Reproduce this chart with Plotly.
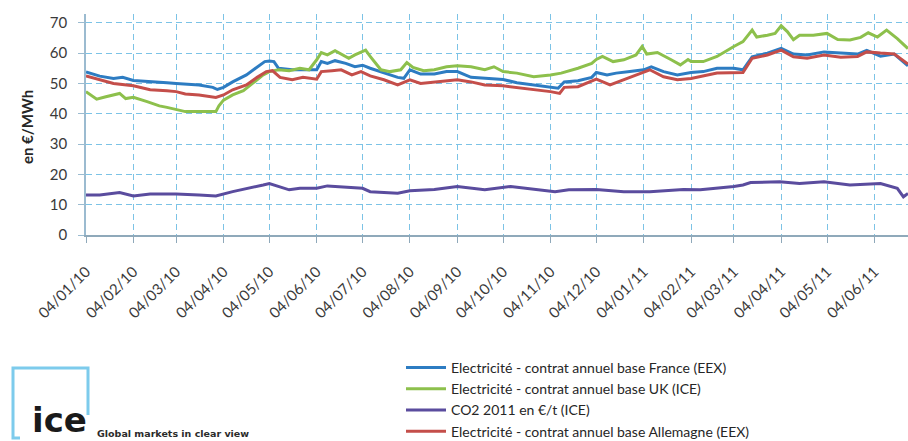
import plotly.graph_objects as go

# ---------------- data ----------------
france_dates = ["2010-01-04","2010-01-13","2010-01-22","2010-01-28","2010-02-04","2010-02-15","2010-02-26",
    "2010-03-04","2010-03-10","2010-03-19","2010-03-28","2010-03-31","2010-04-04","2010-04-10","2010-04-19",
    "2010-04-26","2010-05-01","2010-05-04","2010-05-07","2010-05-10","2010-05-15","2010-05-19","2010-05-26",
    "2010-06-04","2010-06-07","2010-06-11","2010-06-16","2010-06-23","2010-06-29","2010-07-04","2010-07-09",
    "2010-07-18","2010-07-27","2010-07-31","2010-08-04","2010-08-11","2010-08-20","2010-08-28","2010-09-04",
    "2010-09-13","2010-09-22","2010-10-04","2010-10-13","2010-10-24","2010-11-04","2010-11-09","2010-11-13",
    "2010-11-22","2010-12-01","2010-12-04","2010-12-11","2010-12-17","2010-12-26","2011-01-04","2011-01-09",
    "2011-01-17","2011-01-26","2011-02-04","2011-02-12","2011-02-21","2011-03-04","2011-03-10","2011-03-16",
    "2011-03-26","2011-04-04","2011-04-12","2011-04-21","2011-05-02","2011-05-13","2011-05-24","2011-05-30",
    "2011-06-08","2011-06-17","2011-06-26"]
france_values = [53.8,52.4,51.6,52.0,51.0,50.5,50.2,
    50.0,49.8,49.5,48.7,48.0,48.7,50.5,52.8,
    55.5,57.2,57.4,57.2,55.0,54.7,54.5,54.5,
    54.5,57.2,56.6,57.5,56.6,55.5,56.0,55.0,
    53.4,52.0,51.7,54.5,53.1,53.1,53.9,53.9,
    52.0,51.6,51.3,50.2,49.5,48.9,48.4,50.5,
    50.9,52.0,53.6,52.8,53.4,53.9,54.5,55.5,
    53.9,52.8,53.6,53.9,55.0,55.0,54.5,58.8,
    60.0,61.6,59.7,59.4,60.4,60.0,59.7,60.9,
    59.0,59.7,55.8]

uk_dates = ["2010-01-04","2010-01-11","2010-01-17","2010-01-26","2010-01-30","2010-02-04","2010-02-13",
    "2010-02-21","2010-02-26","2010-03-04","2010-03-10","2010-03-19","2010-03-30","2010-04-01","2010-04-04",
    "2010-04-10","2010-04-17","2010-04-23","2010-04-30","2010-05-04","2010-05-10","2010-05-17","2010-05-24",
    "2010-05-30","2010-06-04","2010-06-07","2010-06-11","2010-06-16","2010-06-20","2010-06-25","2010-06-29",
    "2010-07-04","2010-07-06","2010-07-09","2010-07-16","2010-07-22","2010-07-29","2010-08-02","2010-08-06",
    "2010-08-13","2010-08-20","2010-08-28","2010-09-04","2010-09-13","2010-09-22","2010-09-28","2010-10-04",
    "2010-10-13","2010-10-24","2010-11-04","2010-11-11","2010-11-22","2010-12-01","2010-12-04","2010-12-08",
    "2010-12-15","2010-12-22","2010-12-30","2011-01-03","2011-01-06","2011-01-13","2011-01-22","2011-01-28",
    "2011-02-02","2011-02-04","2011-02-12","2011-02-21","2011-03-04","2011-03-10","2011-03-16","2011-03-19",
    "2011-03-26","2011-03-31","2011-04-04","2011-04-08","2011-04-12","2011-04-16","2011-04-25","2011-05-04",
    "2011-05-11","2011-05-19","2011-05-26","2011-05-31","2011-06-06","2011-06-12","2011-06-19","2011-06-26"]
uk_values = [47.3,44.8,45.6,46.7,45.0,45.4,44.0,
    42.6,42.1,41.3,40.7,40.7,40.7,42.6,44.5,
    46.2,47.6,50.0,52.8,53.9,54.5,54.2,55.0,
    54.5,57.8,60.2,59.4,60.8,59.7,58.3,59.4,
    60.5,61.0,58.9,54.5,53.9,54.5,56.9,55.3,
    54.2,54.5,55.5,55.8,55.5,54.5,55.5,53.9,
    53.4,52.2,52.8,53.4,55.0,56.6,57.9,58.9,
    57.2,57.8,59.4,62.2,59.7,60.2,57.8,56.1,
    57.9,57.2,57.2,58.9,62.2,63.8,67.6,65.3,
    65.9,66.5,69.0,67.1,64.4,65.9,65.9,66.5,
    64.5,64.3,65.2,66.7,65.3,67.6,64.8,61.5]

co2_dates = ["2010-01-04","2010-01-13","2010-01-26","2010-02-04","2010-02-15","2010-03-04","2010-03-19",
    "2010-03-30","2010-04-10","2010-04-21","2010-04-30","2010-05-04","2010-05-10","2010-05-17","2010-05-24",
    "2010-06-04","2010-06-11","2010-06-23","2010-07-04","2010-07-09","2010-07-20","2010-07-27","2010-08-04",
    "2010-08-20","2010-09-04","2010-09-13","2010-09-22","2010-10-09","2010-10-24","2010-11-07","2010-11-16",
    "2010-12-04","2010-12-22","2011-01-08","2011-01-30","2011-02-10","2011-03-04","2011-03-10","2011-03-15",
    "2011-04-03","2011-04-16","2011-05-02","2011-05-19","2011-06-08","2011-06-19","2011-06-23","2011-06-26"]
co2_values = [13.2,13.2,14.0,12.9,13.5,13.5,13.2,
    12.9,14.3,15.4,16.5,17.0,16.0,14.9,15.4,
    15.4,16.2,15.7,15.4,14.3,14.0,13.8,14.6,
    15.0,16.0,15.4,14.9,16.0,15.0,14.3,14.9,
    15.0,14.3,14.3,15.0,14.9,16.0,16.5,17.3,
    17.6,17.0,17.6,16.5,17.0,15.4,12.6,13.7]

germany_dates = ["2010-01-04","2010-01-13","2010-01-22","2010-02-04","2010-02-15","2010-02-26","2010-03-04",
    "2010-03-10","2010-03-19","2010-03-30","2010-04-04","2010-04-10","2010-04-19","2010-04-26","2010-05-02",
    "2010-05-06","2010-05-11","2010-05-19","2010-05-26","2010-06-04","2010-06-07","2010-06-14","2010-06-20",
    "2010-06-27","2010-07-03","2010-07-09","2010-07-18","2010-07-27","2010-08-04","2010-08-11","2010-08-20",
    "2010-09-04","2010-09-13","2010-09-22","2010-10-04","2010-10-13","2010-10-24","2010-11-04","2010-11-10",
    "2010-11-13","2010-11-22","2010-12-04","2010-12-13","2010-12-22","2010-12-30","2011-01-08","2011-01-17",
    "2011-01-26","2011-02-04","2011-02-12","2011-02-21","2011-03-10","2011-03-16","2011-03-26","2011-04-04",
    "2011-04-12","2011-04-21","2011-05-02","2011-05-13","2011-05-24","2011-05-30","2011-06-08","2011-06-17",
    "2011-06-26"]
germany_values = [52.5,51.2,50.0,49.2,47.9,47.6,47.3,
    46.5,46.2,45.4,46.2,47.9,49.5,52.0,53.9,
    54.2,52.0,51.2,52.0,51.4,53.9,54.2,54.5,
    52.8,53.9,52.5,51.2,49.5,51.2,50.0,50.5,
    51.2,50.5,49.5,49.2,48.7,47.9,47.3,46.7,
    48.7,48.9,51.4,49.5,51.2,52.8,54.5,52.2,
    51.2,51.6,52.5,53.4,53.6,58.3,59.4,61.0,
    58.8,58.3,59.4,58.6,58.9,60.4,60.0,59.7,
    56.4]

series_names = ["Electricité - contrat annuel base France (EEX)",
                "Electricité - contrat annuel base UK (ICE)",
                "CO2 2011 en €/t (ICE)",
                "Electricité - contrat annuel base Allemagne (EEX)"]

x_tick_dates = ["2010-01-04","2010-02-04","2010-03-04","2010-04-04","2010-05-04","2010-06-04",
                "2010-07-04","2010-08-04","2010-09-04","2010-10-04","2010-11-04","2010-12-04",
                "2011-01-04","2011-02-04","2011-03-04","2011-04-04","2011-05-04","2011-06-04"]
x_tick_labels = ["04/01/10","04/02/10","04/03/10","04/04/10","04/05/10","04/06/10",
                 "04/07/10","04/08/10","04/09/10","04/10/10","04/11/10","04/12/10",
                 "04/01/11","04/02/11","04/03/11","04/04/11","04/05/11","04/06/11"]
y_ticks = [0, 10, 20, 30, 40, 50, 60, 70]

# ---------------- layout helpers ----------------
W, H = 908, 441
L, R, T, B = 86, 0, 14, 206
PW, PH = W - L - R, H - T - B


def px(x):
    return (x - L) / PW


def py(y):
    return (H - B - y) / PH


colors = ["#2D7CC2", "#8DC04C", "#5A4C9E", "#C44E4A"]
FONT = "Lato, 'Open Sans', sans-serif"

fig = go.Figure()
for d, v, name, c in zip([france_dates, uk_dates, co2_dates, germany_dates],
                         [france_values, uk_values, co2_values, germany_values],
                         series_names, colors):
    fig.add_trace(go.Scatter(x=d, y=v, mode="lines", name=name,
                             line=dict(color=c, width=3)))

grid_col = "#7CC3E6"
fig.update_layout(
    width=W, height=H, autosize=False,
    margin=dict(l=L, r=R, t=T, b=B, autoexpand=False),
    paper_bgcolor="white", plot_bgcolor="white",
    font=dict(family=FONT, color="#404040"),
    showlegend=True,
    legend=dict(x=px(401), y=py(352), xanchor="left", yanchor="top",
                font=dict(family=FONT, size=14, color="#262626"),
                bgcolor="rgba(0,0,0,0)", tracegroupgap=0, itemwidth=40),
    xaxis=dict(type="date", range=["2010-01-04", "2011-06-26"], automargin=False,
               tickmode="array", tickvals=x_tick_dates, ticktext=x_tick_labels,
               tickangle=-45, tickfont=dict(family=FONT, size=15, color="#3a3a3a"),
               ticks="outside", ticklen=6, tickcolor="#8FA9BA",
               showline=True, linecolor="#8FA9BA", linewidth=2,
               showgrid=True, gridcolor=grid_col, griddash="6px,4px", gridwidth=1,
               zeroline=False, ticklabelstandoff=14),
    yaxis=dict(range=[0, 72.9], tickmode="array", tickvals=y_ticks, automargin=False,
               tickfont=dict(family=FONT, size=15, color="#3a3a3a"),
               ticks="outside", ticklen=6, tickcolor="#9BBBD0",
               showline=True, linecolor="#9BBBD0", linewidth=1.5,
               showgrid=True, gridcolor=grid_col, griddash="6px,4px", gridwidth=1,
               zeroline=False, ticklabelstandoff=8),
)

annotations = [
    dict(text="<b>en €/MWh</b>", x=px(27), y=py(127), xref="paper", yref="paper",
         textangle=-90, showarrow=False, font=dict(family=FONT, size=15, color="#262626"),
         xanchor="center", yanchor="middle"),
    dict(text="<b>ice</b>", x=px(30), y=py(420), xref="paper", yref="paper", showarrow=False,
         font=dict(family="DejaVu Sans, sans-serif", size=34, color="#1a1a1a"),
         xanchor="left", yanchor="middle"),
    dict(text="<b>Global markets in clear view</b>", x=px(95), y=py(433), xref="paper", yref="paper",
         showarrow=False, font=dict(family="DejaVu Sans, sans-serif", size=9.5, color="#2b2b2b"),
         xanchor="left", yanchor="middle"),
]
fig.update_layout(annotations=annotations)

logo_path = "M {},{} L {},{} L {},{} L {},{} L {},{}".format(
    px(20), py(438), px(13), py(438), px(13), py(368), px(88), py(368), px(88), py(415))
fig.add_shape(type="path", path=logo_path, xref="paper", yref="paper",
              line=dict(color="#7DCBEC", width=3))

fig.write_html("out.html", config={"displayModeBar": False},
               post_script="document.body.style.margin='0';document.body.style.overflow='hidden';")
